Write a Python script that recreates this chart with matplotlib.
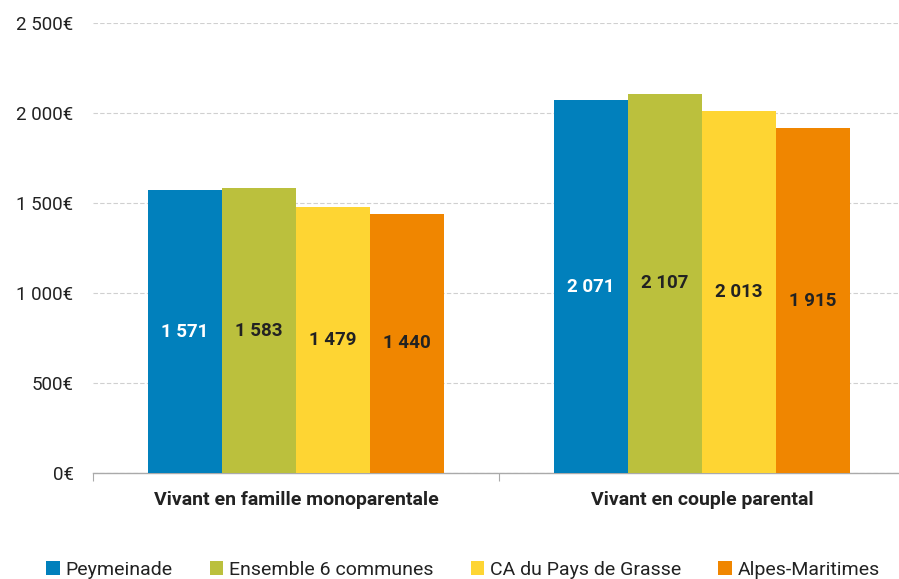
import matplotlib
matplotlib.use("Agg")
import matplotlib.pyplot as plt
from matplotlib.patches import Patch
import numpy as np

# Données
categories = ["Vivant en famille monoparentale", "Vivant en couple parental"]
series = ["Peymeinade", "Ensemble 6 communes", "CA du Pays de Grasse", "Alpes-Maritimes"]
peymeinade = [1571, 2071]
ensemble_6 = [1583, 2107]
ca_grasse = [1479, 2013]
alpes_maritimes = [1440, 1915]
y_ticks = [0, 500, 1000, 1500, 2000, 2500]

values = [peymeinade, ensemble_6, ca_grasse, alpes_maritimes]
colors = ["#0180BC", "#BBC03D", "#FED533", "#F08600"]
label_colors = ["white", "#222222", "#222222", "#222222"]

plt.rcParams["font.family"] = ["Roboto", "DejaVu Sans"]


def fmt(v):
    return f"{v:,}".replace(",", " ")


fig = plt.figure(figsize=(8.99, 5.79), dpi=100)
ax = fig.add_axes([93 / 899, 106 / 579, 812 / 899, 450 / 579])

x = np.arange(len(categories))
bar_w = 0.73 / 4
for i, (vals, col) in enumerate(zip(values, colors)):
    pos = x - 0.73 / 2 + bar_w * (i + 0.5)
    bars = ax.bar(pos, vals, width=bar_w, color=col, zorder=3)
    for b, v in zip(bars, vals):
        ax.text(b.get_x() + b.get_width() / 2, v / 2, fmt(v),
                ha="center", va="center", fontsize=13.5, fontweight="bold",
                color=label_colors[i], zorder=4)

ax.set_xlim(-0.5, 1.5)
ax.set_ylim(0, 2500)
ax.set_yticks(y_ticks)
ax.set_yticklabels([fmt(t) + "€" for t in y_ticks], fontsize=13.5, color="#222222")
ax.yaxis.grid(True, linestyle=(0, (4, 2)), color="#d0d0d0", linewidth=0.8, zorder=0)
ax.tick_params(axis="y", length=0, pad=14)

# ticks of category boundaries
ax.set_xticks([-0.5, 0.5, 1.5])
ax.set_xticklabels([])
ax.set_xticks(x, minor=True)
ax.set_xticklabels(categories, minor=True, fontsize=14, fontweight="bold", color="#222222")
ax.tick_params(axis="x", which="major", length=6, color="#aaaaaa", direction="out")
ax.tick_params(axis="x", which="minor", length=0, pad=13)

for s in ["top", "right", "left"]:
    ax.spines[s].set_visible(False)
ax.spines["bottom"].set_color("#aaaaaa")
ax.spines["bottom"].set_linewidth(1)

handles = [Patch(facecolor=c, label=s) for c, s in zip(colors, series)]
fig.legend(handles=handles, loc="lower center", bbox_to_anchor=(0.515, -0.03), ncol=4,
           frameon=False, fontsize=14, handlelength=0.7, handleheight=0.7,
           handletextpad=0.3, columnspacing=1.9, labelcolor="#222222")

fig.savefig("out.png", dpi=100)
